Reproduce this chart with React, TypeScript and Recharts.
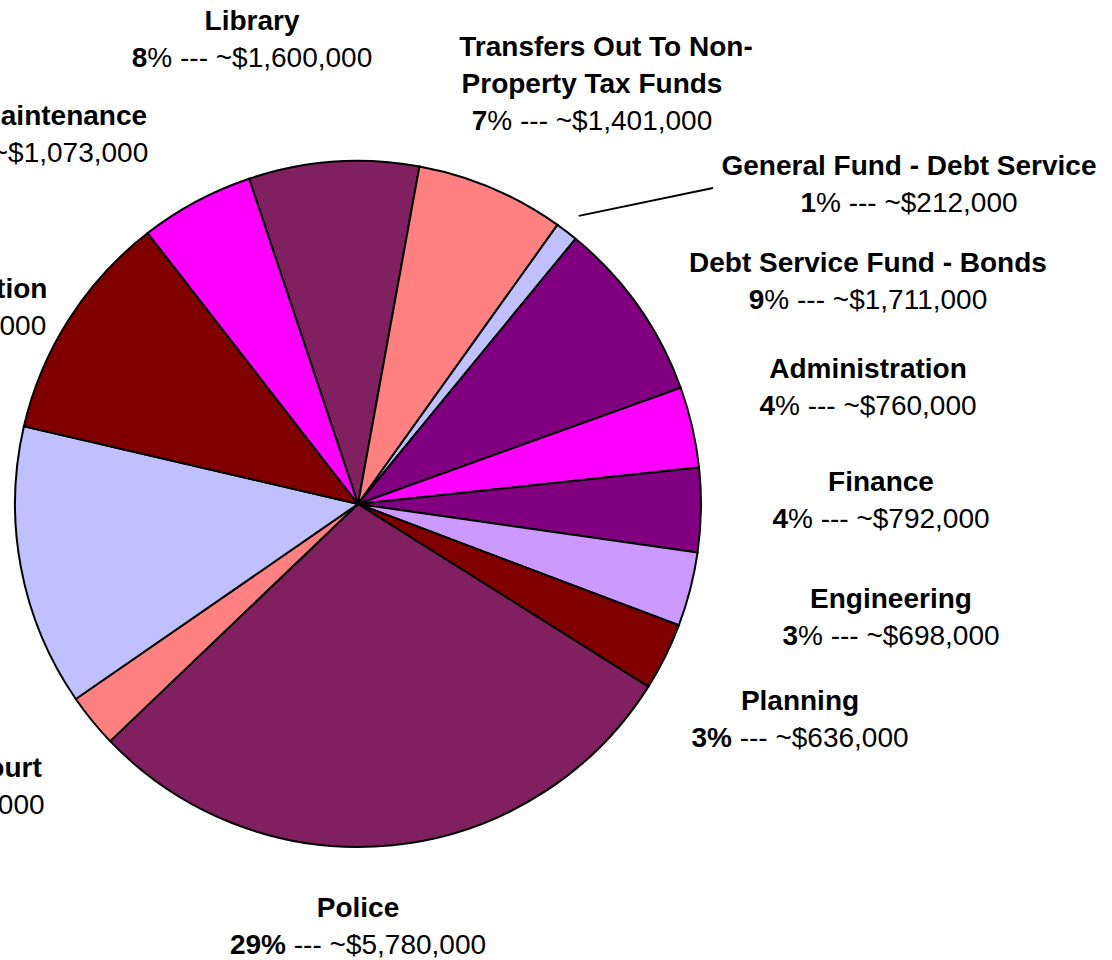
import React from 'react'
import { PieChart, Pie, Cell } from 'recharts'

// slices, clockwise from the Library slice near 12 o'clock
const categories = [
  'Library',
  'Transfers Out To Non-Property Tax Funds',
  'General Fund - Debt Service',
  'Debt Service Fund - Bonds',
  'Administration',
  'Finance',
  'Engineering',
  'Planning',
  'Police',
  'Municipal Court',
  'Fire',
  'Parks & Recreation',
  'Park Maintenance',
]
const amounts = [
  1600000, 1401000, 212000, 1711000, 760000, 792000, 698000, 636000, 5780000, 505000, 2650000, 2170000,
  1073000,
]
const percents = [8, 7, 1, 9, 4, 4, 3, 3, 29, 3, 13, 11, 5]

const colors = [
  '#802060', '#FF8080', '#C0C0FF', '#800080', '#FF00FF', '#800080', '#CC99FF', '#800000', '#802060',
  '#FF8080', '#C0C0FF', '#800000', '#FF00FF',
]

// label layout: offset of the label (centre x, first baseline) from the pie centre
const labelOffset: Record<string, [number, number]> = {
  'Library': [-106, -474],
  'Transfers Out To Non-Property Tax Funds': [234, -448],
  'General Fund - Debt Service': [551, -329],
  'Debt Service Fund - Bonds': [510, -232],
  'Administration': [510, -126],
  'Finance': [523, -13],
  'Engineering': [533, 104],
  'Planning': [442, 206],
  'Police': [0, 413],
  'Municipal Court': [-422, 273],
  'Fire': [-520, 60],
  'Parks & Recreation': [-439, -206],
  'Park Maintenance': [-330, -379],
}
const wrapped: Record<string, string[]> = {
  'Transfers Out To Non-Property Tax Funds': ['Transfers Out To Non-', 'Property Tax Funds'],
}
const boldPercentSign = new Set(['Planning', 'Police'])

const CX = 358
const CY = 504
const R = 343
const LINE = 37
const FONT = '"Liberation Sans", Arial, sans-serif'
const RAD = Math.PI / 180

const data = categories.map((name, i) => ({ name, value: amounts[i], pct: percents[i] }))

function renderLabel(props: any) {
  const { index, midAngle } = props
  const name = categories[index]
  const [dx, dy] = labelOffset[name]
  const x = CX + dx
  const y = CY + dy
  const lines = wrapped[name] ?? [name]
  const boldSign = boldPercentSign.has(name)
  const amount = amounts[index].toLocaleString('en-US')

  // leader line only for the thin debt service slice
  let leader = null
  if (name === 'General Fund - Debt Service') {
    const x1 = CX + (R + 20) * Math.cos(-midAngle * RAD)
    const y1 = CY + (R + 20) * Math.sin(-midAngle * RAD)
    leader = <line x1={x1} y1={y1} x2={x - 196} y2={y + 13} stroke="#000" strokeWidth={2} />
  }

  return (
    <g key={`label-${index}`}>
      {leader}
      {lines.map((l, i) => (
        <text
          key={i}
          x={x + (lines.length > 1 && i === 0 ? 14 : 0)}
          y={y + i * LINE}
          textAnchor="middle"
          fontFamily={FONT}
          fontSize={28}
          fontWeight="bold"
          fill="#000"
        >
          {l}
        </text>
      ))}
      <text
        x={x}
        y={y + lines.length * LINE}
        textAnchor="middle"
        fontFamily={FONT}
        fontSize={28}
        fill="#000"
        style={{ whiteSpace: 'pre' }}
      >
        <tspan fontWeight="bold">{boldSign ? `${percents[index]}%` : `${percents[index]}`}</tspan>
        {`${boldSign ? '' : '%'} --- ~$${amount}`}
      </text>
    </g>
  )
}

export default function App() {
  return (
    <div
      style={{
        position: 'absolute',
        left: 0,
        top: 0,
        width: 1112,
        height: 960,
        overflow: 'hidden',
        background: '#fff',
      }}
    >
      <PieChart width={1112} height={960} margin={{ top: 0, right: 0, bottom: 0, left: 0 }}>
        <Pie
          data={data}
          dataKey="value"
          nameKey="name"
          cx={CX}
          cy={CY}
          outerRadius={R}
          startAngle={108.5}
          endAngle={-251.5}
          stroke="#000"
          strokeWidth={2}
          label={renderLabel}
          labelLine={false}
          isAnimationActive={false}
        >
          {data.map((d, i) => (
            <Cell key={d.name} fill={colors[i]} />
          ))}
        </Pie>
      </PieChart>
    </div>
  )
}
